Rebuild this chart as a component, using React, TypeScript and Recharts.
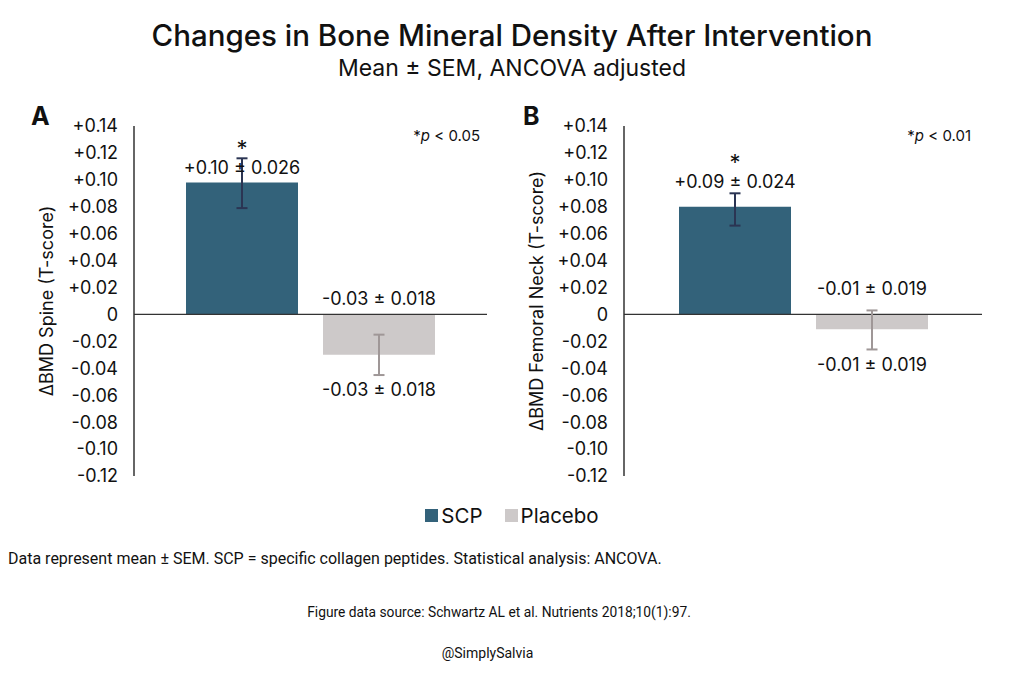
import { Bar, BarChart, ErrorBar, LabelList, ReferenceLine, XAxis, YAxis } from "recharts";

const GROUPS = ["SCP", "Placebo"];
const COLORS = ["#33627a", "#cdc9c9"];
const ERR_COLORS = ["#2b3553", "#9f9797"];

const Y_TICKS = [-0.12, -0.1, -0.08, -0.06, -0.04, -0.02, 0, 0.02, 0.04, 0.06, 0.08, 0.1, 0.12, 0.14];

// panel A: spine
const spineMean = [0.098, -0.03];
const spineErr = [
  [0.019, 0.018],
  [0.015, 0.015],
];
const spineLabels = ["+0.10 ± 0.026", "-0.03 ± 0.018"];

// panel B: femoral neck
const neckMean = [0.08, -0.011];
const neckErr = [
  [0.014, 0.01],
  [0.015, 0.014],
];
const neckLabels = ["+0.09 ± 0.024", "-0.01 ± 0.019"];

const FONT = "Inter, 'Noto Sans', sans-serif";

const fmtTick = (v: number) => (v === 0 ? "0" : v > 0 ? "+" + v.toFixed(2) : v.toFixed(2));

type Offsets = { star: number; pos: number; above: number; below: number };

function barLabel(text: string, positive: boolean, off: Offsets) {
  return (props: any) => {
    const vb = props.viewBox ?? props;
    const x = Number(vb.x);
    const y = Number(vb.y);
    const w = Number(vb.width);
    const h = Number(vb.height);
    const top = Math.min(y, y + h);
    const bottom = Math.max(y, y + h);
    const cx = x + w / 2;
    if (positive) {
      return (
        <g>
          <text x={cx} y={top - off.star} textAnchor="middle" fontSize={22} fontFamily={FONT} fill="#111">
            *
          </text>
          <text x={cx} y={top - off.pos} textAnchor="middle" fontSize={18} fontFamily={FONT} fill="#111">
            {text}
          </text>
        </g>
      );
    }
    return (
      <g>
        <text x={cx} y={top - off.above} textAnchor="middle" fontSize={18} fontFamily={FONT} fill="#111">
          {text}
        </text>
        <text x={cx} y={bottom + off.below} textAnchor="middle" fontSize={18} fontFamily={FONT} fill="#111">
          {text}
        </text>
      </g>
    );
  };
}

type PanelProps = {
  mean: number[];
  err: number[][];
  labels: string[];
  yLabel: string;
  width: number;
  offsets: Offsets;
};

function Panel({ mean, err, labels, yLabel, width, offsets }: PanelProps) {
  const row: any = { name: "BMD" };
  GROUPS.forEach((g, i) => {
    row[g] = mean[i];
    row[g + "Err"] = err[i];
  });

  return (
    <BarChart
      width={width}
      height={400}
      data={[row]}
      margin={{ top: 26, right: 3, bottom: 24, left: 0 }}
      barGap={25}
    >
      <XAxis dataKey="name" hide />
      <YAxis
        width={134}
        domain={[-0.12, 0.14]}
        ticks={Y_TICKS}
        interval={0}
        tickFormatter={fmtTick}
        tickLine={false}
        tickMargin={10}
        axisLine={{ stroke: "#333", strokeWidth: 1.5 }}
        tick={{ fontSize: 18, fill: "#111", fontFamily: FONT }}
        label={{
          value: yLabel,
          angle: -90,
          position: "insideLeft",
          offset: 47,
          style: { textAnchor: "middle", fontSize: 18, fill: "#111", fontFamily: FONT },
        }}
      />
      <ReferenceLine y={0} stroke="#333" strokeWidth={1.3} />
      {GROUPS.map((g, i) => (
        <Bar key={g} dataKey={g} fill={COLORS[i]} barSize={112} isAnimationActive={false}>
          <ErrorBar dataKey={g + "Err"} width={5.5} stroke={ERR_COLORS[i]} strokeWidth={2} direction="y" />
          <LabelList dataKey={g} content={barLabel(labels[i], mean[i] > 0, offsets)} />
        </Bar>
      ))}
    </BarChart>
  );
}

export default function App() {
  return (
    <div
      style={{
        position: "relative",
        width: 1024,
        height: 681,
        margin: -8,
        background: "#fff",
        fontFamily: FONT,
        color: "#111",
        overflow: "hidden",
      }}
    >
      <div style={{ position: "absolute", top: 17, left: 0, width: 1024, textAlign: "center", fontSize: 29.5, fontWeight: 500 }}>
        Changes in Bone Mineral Density After Intervention
      </div>
      <div style={{ position: "absolute", top: 54, left: 0, width: 1024, textAlign: "center", fontSize: 23 }}>
        Mean ± SEM, ANCOVA adjusted
      </div>

      <div style={{ position: "absolute", left: 31, top: 101, fontSize: 25, fontWeight: 700 }}>A</div>
      <div style={{ position: "absolute", left: 523, top: 101, fontSize: 25, fontWeight: 700 }}>B</div>

      <div style={{ position: "absolute", right: 1024 - 480, top: 126, fontSize: 15 }}>
        *<i>p</i> &lt; 0.05
      </div>
      <div style={{ position: "absolute", right: 1024 - 971, top: 126, fontSize: 15 }}>
        *<i>p</i> &lt; 0.01
      </div>

      <div style={{ position: "absolute", left: 0, top: 100 }}>
        <Panel
          mean={spineMean}
          err={spineErr}
          labels={spineLabels}
          yLabel="ΔBMD Spine (T-score)"
          width={490}
          offsets={{ star: 27, pos: 8.5, above: 9.5, below: 41.5 }}
        />
      </div>
      <div style={{ position: "absolute", left: 490, top: 100 }}>
        <Panel
          mean={neckMean}
          err={neckErr}
          labels={neckLabels}
          yLabel="ΔBMD Femoral Neck (T-score)"
          width={495}
          offsets={{ star: 37, pos: 18.5, above: 19.5, below: 41.5 }}
        />
      </div>

      <div
        style={{
          position: "absolute",
          top: 503,
          left: 0,
          width: 1024,
          display: "flex",
          justifyContent: "center",
          gap: 22,
          fontSize: 20.5,
        }}
      >
        {GROUPS.map((g, i) => (
          <div key={g} style={{ display: "flex", alignItems: "center", gap: 3 }}>
            <span style={{ width: 13, height: 13, background: COLORS[i], display: "inline-block" }} />
            <span>{g}</span>
          </div>
        ))}
      </div>

      <div style={{ position: "absolute", left: 8, top: 549, fontSize: 16, fontFamily: "Roboto, sans-serif" }}>
        Data represent mean ± SEM. SCP = specific collagen peptides. Statistical analysis: ANCOVA.
      </div>
      <div
        style={{
          position: "absolute",
          top: 604,
          left: 0,
          width: 1024,
          textAlign: "center",
          paddingRight: 26,
          boxSizing: "border-box",
          fontSize: 13.8,
          fontFamily: "Roboto, sans-serif",
        }}
      >
        Figure data source: Schwartz AL et al. Nutrients 2018;10(1):97.
      </div>
      <div
        style={{
          position: "absolute",
          top: 645,
          left: 0,
          width: 1024,
          textAlign: "center",
          paddingRight: 49,
          boxSizing: "border-box",
          fontSize: 14,
          fontFamily: "Roboto, sans-serif",
        }}
      >
        @SimplySalvia
      </div>
    </div>
  );
}
